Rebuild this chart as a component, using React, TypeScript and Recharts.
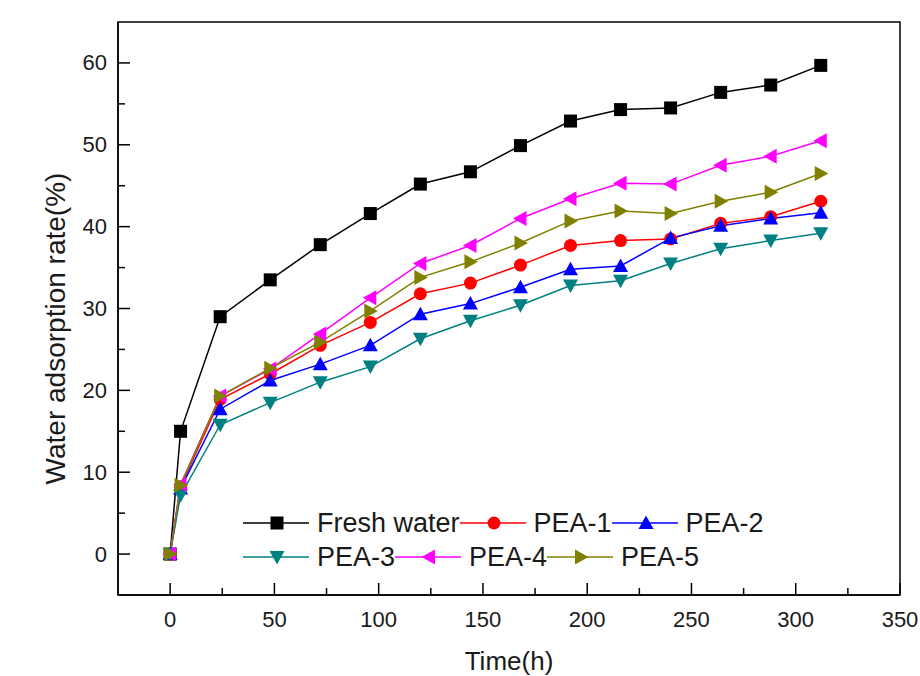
import { LineChart, Line, XAxis, YAxis, ReferenceArea } from 'recharts'

const times = [0, 5, 24, 48, 72, 96, 120, 144, 168, 192, 216, 240, 264, 288, 312]

const freshWater = [0, 15, 29, 33.5, 37.8, 41.6, 45.2, 46.7, 49.9, 52.9, 54.3, 54.5, 56.4, 57.3, 59.7]
const pea1 = [0, 8.2, 18.9, 22.0, 25.5, 28.3, 31.8, 33.1, 35.3, 37.7, 38.3, 38.5, 40.4, 41.2, 43.1]
const pea2 = [0, 8.0, 17.7, 21.2, 23.2, 25.5, 29.3, 30.6, 32.6, 34.8, 35.2, 38.6, 40.1, 41.0, 41.7]
const pea3 = [0, 7.2, 15.8, 18.5, 21.0, 22.9, 26.3, 28.5, 30.4, 32.8, 33.4, 35.5, 37.3, 38.3, 39.2]
const pea4 = [0, 8.5, 19.3, 22.6, 26.9, 31.3, 35.5, 37.7, 41.0, 43.4, 45.3, 45.2, 47.5, 48.6, 50.5]
const pea5 = [0, 8.4, 19.3, 22.7, 25.9, 29.7, 33.8, 35.7, 38.0, 40.7, 41.9, 41.6, 43.1, 44.2, 46.5]

const xTicks = [0, 25, 50, 75, 100, 125, 150, 175, 200, 225, 250, 275, 300, 325, 350]
const yTicks = [0, 5, 10, 15, 20, 25, 30, 35, 40, 45, 50, 55, 60]

const series = [
  { key: 'fresh', name: 'Fresh water', values: freshWater, color: '#000000', shape: 'square' },
  { key: 'pea1', name: 'PEA-1', values: pea1, color: '#ff0000', shape: 'circle' },
  { key: 'pea2', name: 'PEA-2', values: pea2, color: '#0000ff', shape: 'up' },
  { key: 'pea3', name: 'PEA-3', values: pea3, color: '#008080', shape: 'down' },
  { key: 'pea4', name: 'PEA-4', values: pea4, color: '#ff00ff', shape: 'left' },
  { key: 'pea5', name: 'PEA-5', values: pea5, color: '#808000', shape: 'right' }
]

const data = times.map((t, i) => {
  const row: Record<string, number> = { t }
  series.forEach(s => { row[s.key] = s.values[i] })
  return row
})

const font = '"Liberation Sans", Arial, sans-serif'
const textColor = '#1a1a1a'

function Marker({ cx, cy, shape, color }: { cx: number; cy: number; shape: string; color: string }) {
  if (cx == null || cy == null) return null
  if (shape === 'square') {
    return <rect x={cx - 6.5} y={cy - 6.5} width={13} height={13} fill={color} />
  }
  if (shape === 'circle') {
    return <circle cx={cx} cy={cy} r={6.5} fill={color} />
  }
  let d = ''
  if (shape === 'up') d = `M${cx},${cy - 7.5} L${cx + 7.5},${cy + 6} L${cx - 7.5},${cy + 6} Z`
  if (shape === 'down') d = `M${cx},${cy + 7.5} L${cx + 7.5},${cy - 6} L${cx - 7.5},${cy - 6} Z`
  if (shape === 'left') d = `M${cx - 7.5},${cy} L${cx + 6},${cy - 7.5} L${cx + 6},${cy + 7.5} Z`
  if (shape === 'right') d = `M${cx + 7.5},${cy} L${cx - 6},${cy - 7.5} L${cx - 6},${cy + 7.5} Z`
  return <path d={d} fill={color} />
}

function XTick({ x, y, payload }: any) {
  const major = payload.value % 50 === 0
  return (
    <g>
      <line x1={x} x2={x} y1={y} y2={y - (major ? 12 : 7)} stroke="#000" strokeWidth={1.5} />
      {major && (
        <text x={x} y={y + 24} textAnchor="middle" dominantBaseline="central"
          fontSize={22} fontFamily={font} fill={textColor}>
          {payload.value}
        </text>
      )}
    </g>
  )
}

function YTick({ x, y, payload }: any) {
  const major = payload.value % 10 === 0
  return (
    <g>
      <line x1={x} x2={x + (major ? 12 : 7)} y1={y} y2={y} stroke="#000" strokeWidth={1.5} />
      {major && (
        <text x={x - 11} y={y} textAnchor="end" dominantBaseline="central"
          fontSize={22} fontFamily={font} fill={textColor}>
          {payload.value}
        </text>
      )}
    </g>
  )
}

function XTitle({ viewBox }: any) {
  return (
    <text x={viewBox.x + viewBox.width / 2} y={viewBox.y + 66} textAnchor="middle"
      dominantBaseline="central" fontSize={26} fontFamily={font} fill={textColor}>
      Time(h)
    </text>
  )
}

function YTitle({ viewBox }: any) {
  const cx = 55
  const cy = viewBox.y + viewBox.height / 2 + 20
  return (
    <text x={cx} y={cy} textAnchor="middle" dominantBaseline="central"
      transform={`rotate(-90 ${cx} ${cy})`} fontSize={28} fontFamily={font} fill={textColor}>
      Water adsorption rate(%)
    </text>
  )
}

const legendRows = [[0, 1, 2], [3, 4, 5]]

function LegendBox() {
  return (
    <div style={{ position: 'absolute', left: 243, top: 506, fontFamily: font, fontSize: 27, color: textColor }}>
      {legendRows.map((row, r) => (
        <div key={r} style={{ display: 'flex', alignItems: 'center', height: 34, lineHeight: '34px', whiteSpace: 'nowrap' }}>
          {row.map(i => {
            const s = series[i]
            return (
              <div key={s.key} style={{ display: 'flex', alignItems: 'center' }}>
                <svg width={66} height={20} style={{ display: 'block' }}>
                  <line x1={0} x2={66} y1={10} y2={10} stroke={s.color} strokeWidth={1.5} />
                  <Marker cx={34} cy={10} shape={s.shape} color={s.color} />
                </svg>
                <span style={{ marginLeft: 8 }}>{s.name}</span>
              </div>
            )
          })}
        </div>
      ))}
    </div>
  )
}

export default function App() {
  return (
    <div style={{ position: 'absolute', left: 0, top: 0, width: 920, height: 676, background: '#fff' }}>
      <LineChart width={920} height={676} data={data} margin={{ top: 22, right: 20, bottom: 51, left: 58 }}>
        <ReferenceArea x1={-25} x2={350} y1={-5} y2={65} fill="none" stroke="#000" strokeWidth={1.5} />
        <XAxis
          type="number"
          dataKey="t"
          domain={[-25, 350]}
          ticks={xTicks}
          interval={0}
          allowDataOverflow
          height={30}
          tickSize={0}
          tickMargin={0}
          tickLine={false}
          axisLine={{ stroke: '#000', strokeWidth: 1.5 }}
          tick={<XTick />}
          label={(props: any) => <XTitle {...props} />}
        />
        <YAxis
          type="number"
          domain={[-5, 65]}
          ticks={yTicks}
          interval={0}
          allowDataOverflow
          width={60}
          tickSize={0}
          tickMargin={0}
          tickLine={false}
          axisLine={{ stroke: '#000', strokeWidth: 1.5 }}
          tick={<YTick />}
          label={(props: any) => <YTitle {...props} />}
        />
        {series.map(s => (
          <Line
            key={s.key}
            type="linear"
            dataKey={s.key}
            name={s.name}
            stroke={s.color}
            strokeWidth={1.5}
            isAnimationActive={false}
            activeDot={false}
            dot={(p: any) => <Marker key={`${s.key}-${p.index}`} cx={p.cx} cy={p.cy} shape={s.shape} color={s.color} />}
          />
        ))}
      </LineChart>
      <LegendBox />
    </div>
  )
}
